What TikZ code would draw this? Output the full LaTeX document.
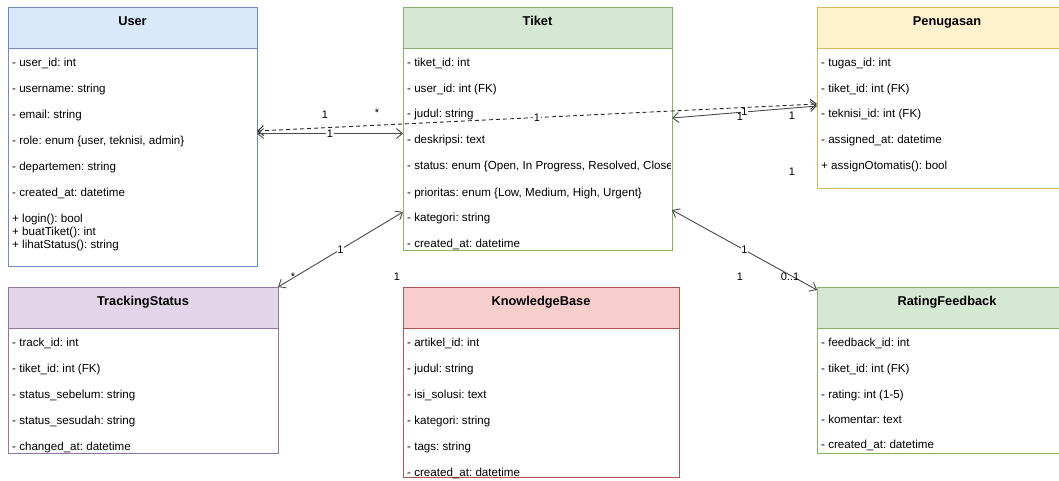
\documentclass[tikz,border=0pt]{standalone}
\usepackage{fontspec}
\setmainfont{Liberation Sans}
\usetikzlibrary{arrows.meta,calc}
\frenchspacing
\definecolor{bluef}{HTML}{DAE8FC}\definecolor{blued}{HTML}{6C8EBF}
\definecolor{greenf}{HTML}{D5E8D4}\definecolor{greend}{HTML}{82B366}
\definecolor{yellowf}{HTML}{FFF2CC}\definecolor{yellowd}{HTML}{D6B656}
\definecolor{purplef}{HTML}{E1D5E7}\definecolor{purpled}{HTML}{9673A6}
\definecolor{redf}{HTML}{F8CECC}\definecolor{redd}{HTML}{B85450}
\definecolor{linec}{HTML}{4A4A4A}
\tikzset{
  boxname/.style={inner sep=0pt, outer sep=0pt, anchor=north west},
  row/.style={anchor=base west, inner sep=0pt, font=\fontsize{11.6}{13}\selectfont},
  ttl/.style={anchor=base, inner sep=0pt, font=\fontsize{12.8}{14}\selectfont\bfseries},
  lbl/.style={inner sep=0.6pt, font=\fontsize{11}{13}\selectfont},
  lblw/.style={lbl, fill=white},
  assoc/.style={draw=linec, line width=0.9pt, {Straight Barb[length=6pt,width=10pt]}-{Straight Barb[length=6pt,width=10pt]}},
  dassoc/.style={assoc, draw=black!85, dash pattern=on 4pt off 3pt},
}
\newcommand\umlbox[8]{%
  \node[boxname, minimum width=#4pt, minimum height=#5pt] (#1) at (#2,#3) {};
  \fill[#6] (#1.north west) rectangle ($(#1.north east)+(0,41)$);
  \draw[#7, line width=0.8pt] (#1.north west) rectangle (#1.south east);
  \draw[#7, line width=0.8pt] ($(#1.north west)+(0,41)$) -- ($(#1.north east)+(0,41)$);
  \node[ttl] (#1-t) at ($(#1.north)+(0,18.5)$) {#8};
}
\begin{document}
\begin{tikzpicture}[x=1pt,y=-1pt]
\useasboundingbox (0,0) rectangle (1059,480);
\clip (0,0) rectangle (1059,480);
\fill[white] (0,0) rectangle (1059,480);

% classes
\umlbox{user}{8}{7}{249}{259}{bluef}{blued}{User}
\umlbox{tiket}{403}{7}{269}{243}{greenf}{greend}{Tiket}
\umlbox{pen}{817}{7}{260}{181}{yellowf}{yellowd}{Penugasan}
\umlbox{track}{8}{287}{270}{166}{purplef}{purpled}{TrackingStatus}
\umlbox{kb}{403}{287}{276}{190}{redf}{redd}{KnowledgeBase}
\umlbox{rate}{817}{287}{260}{166}{greenf}{greend}{RatingFeedback}

% User rows
\node[row] (u1) at (12,66) {- user\_id: int};
\node[row] (u2) at (12,92) {- username: string};
\node[row] (u3) at (12,118) {- email: string};
\node[row] (u4) at (12,144) {- role: enum \{user, teknisi, admin\}};
\node[row] (u5) at (12,170) {- departemen: string};
\node[row] (u6) at (12,196) {- created\_at: datetime};
\node[row] (u7) at (12,222) {+ login(): bool};
\node[row] (u8) at (12,235) {+ buatTiket(): int};
\node[row] (u9) at (12,248) {+ lihatStatus(): string};

% Tiket rows
\node[row] (t1) at (407,66) {- tiket\_id: int};
\node[row] (t2) at (407,92) {- user\_id: int (FK)};
\node[row] (t3) at (407,117) {- judul: string};
\node[row] (t4) at (407,143) {- deskripsi: text};
\begin{scope}
\clip (404,150) rectangle (670,180);
\node[row] (t5) at (407,169) {- status: enum \{Open, In Progress, Resolved, Closed\}};
\end{scope}
\node[row] (t6) at (407,196) {- prioritas: enum \{Low, Medium, High, Urgent\}};
\node[row] (t7) at (407,221) {- kategori: string};
\node[row] (t8) at (407,247) {- created\_at: datetime};

% Penugasan rows
\node[row] (p1) at (821,66) {- tugas\_id: int};
\node[row] (p2) at (821,92) {- tiket\_id: int (FK)};
\node[row] (p3) at (821,117) {- teknisi\_id: int (FK)};
\node[row] (p4) at (821,143) {- assigned\_at: datetime};
\node[row] (p5) at (821,169) {+ assignOtomatis(): bool};

% TrackingStatus rows
\node[row] (s1) at (12,346) {- track\_id: int};
\node[row] (s2) at (12,372) {- tiket\_id: int (FK)};
\node[row] (s3) at (12,398) {- status\_sebelum: string};
\node[row] (s4) at (12,424) {- status\_sesudah: string};
\node[row] (s5) at (12,450) {- changed\_at: datetime};

% KnowledgeBase rows
\node[row] (k1) at (407,346) {- artikel\_id: int};
\node[row] (k2) at (407,372) {- judul: string};
\node[row] (k3) at (407,398) {- isi\_solusi: text};
\node[row] (k4) at (407,424) {- kategori: string};
\node[row] (k5) at (407,450) {- tags: string};
\node[row] (k6) at (407,476) {- created\_at: datetime};

% RatingFeedback rows
\node[row] (r1) at (821,346) {- feedback\_id: int};
\node[row] (r2) at (821,372) {- tiket\_id: int (FK)};
\node[row] (r3) at (821,398) {- rating: int (1-5)};
\node[row] (r4) at (821,423) {- komentar: text};
\node[row] (r5) at (821,448) {- created\_at: datetime};

% connectors
\draw[dassoc] (user.east |- 0,131) -- node[lblw, pos=0.5] (ld) {1} (pen.west |- 0,104);
\draw[assoc] (user.east |- 0,133.5) -- node[lblw, pos=0.5] (la) {1} (tiket.west |- 0,133.5);
\draw[assoc] (tiket.east |- 0,118) -- node[lblw, pos=0.5] (lc) {1} (pen.west |- 0,106);
\draw[assoc] (tiket.west |- 0,212) -- node[lblw, pos=0.5] (lt) {1} (track.north east);
\draw[assoc] (tiket.east |- 0,210) -- node[lblw, pos=0.5] (lr) {1} (rate.west |- 0,290);

% multiplicities
\node[lbl] (m1) at (325,115) {1};
\node[lbl] (m2) at (377,113) {*};
\node[lbl] (m3) at (740,117) {1};
\node[lbl] (m4) at (792,116) {1};
\node[lbl] (m5) at (792,172) {1};
\node[lbl] (m6) at (293,277) {*};
\node[lbl] (m7) at (397,277) {1};
\node[lbl] (m8) at (740,277) {1};
\node[lbl] (m9) at (790,277) {0..1};
\end{tikzpicture}
\end{document}
